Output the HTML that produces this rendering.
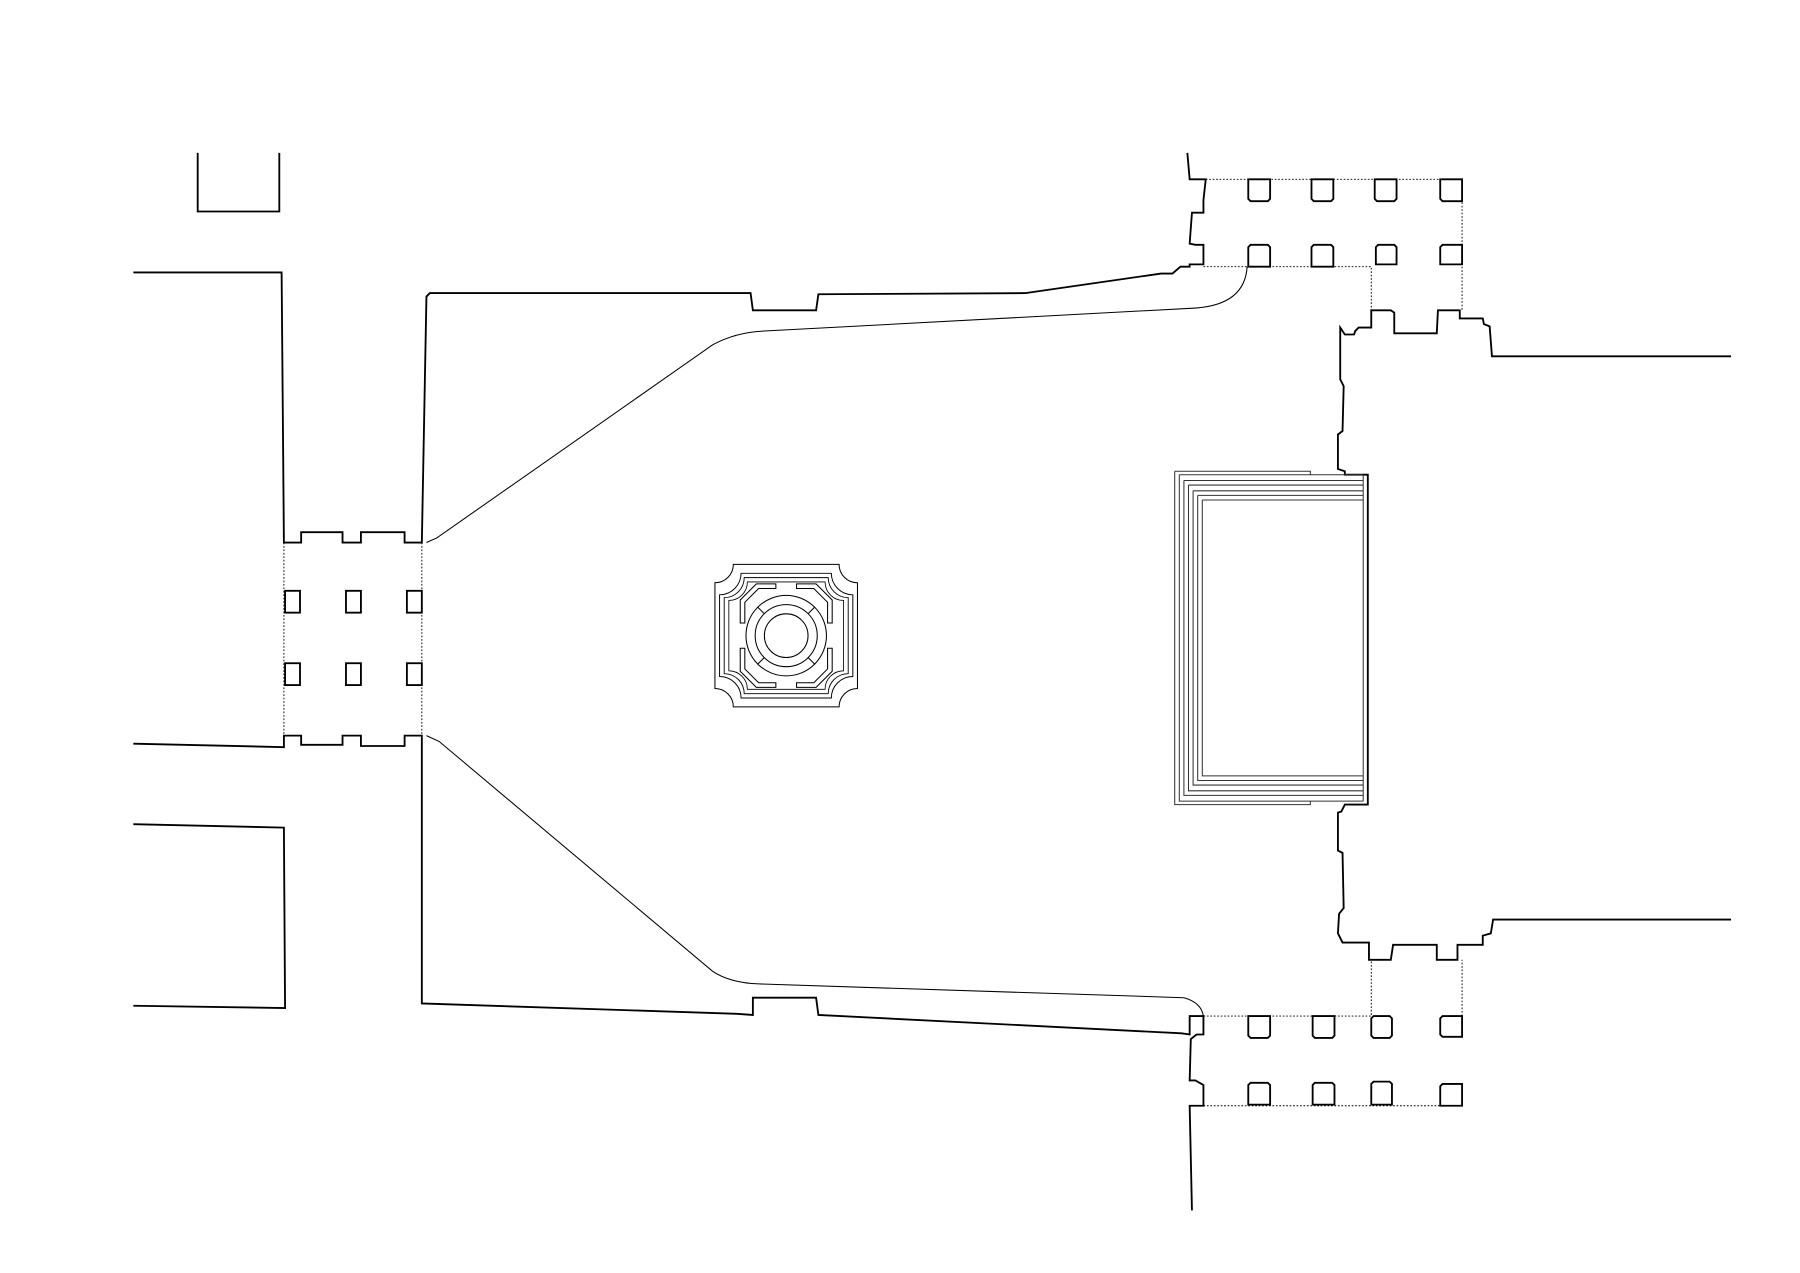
<!DOCTYPE html>
<html><head><meta charset="utf-8"><style>html,body{margin:0;padding:0;background:#fff}svg{display:block}</style></head><body>
<svg width="1800" height="1273" viewBox="0 0 1566 1107.5" preserveAspectRatio="none" xmlns="http://www.w3.org/2000/svg" fill="none" stroke="#000" stroke-linejoin="miter">
<g stroke-width="1.6">
<path d="M172,133 V184 H243 V133"/>
<path d="M116,237 H245 L247,472 H262 V463 H298 V472 H314 V463 H352 V472 H367 L371,258 L374,255 H653 L655,270 H710 L712,256 L892,255 L1010,238 L1020,238 L1027,232 L1035,232 V230 H1047 V213 H1040 L1035,212 L1037,185 H1047 V174 L1049,156 H1035 L1033,133"/>
<path d="M116,647 L247,650 V640 H262 V648 H298 V640 H314 V649 H352 V640 H367 V873 L641,882 L655,883 V868 H710 L712,883 L1028,899 L1035,900 V884 H1047 V900 H1041 L1036,904 L1035,940 H1040 L1047,944 V962 H1035 L1037,1053"/>
<path d="M116,717 L247,720 L248,877 L116,875"/>
<path d="M1506,310 H1298 L1296,284 L1291,282 L1290,277 H1270 V270 H1251 L1250,290 H1213 V272 L1210,270 H1193 V285 L1182,285 L1179,288 L1178,291 H1170 L1166,285 L1166,330 L1169,336 L1168,375 L1164,378 L1164,408 L1170,410 L1170,413 H1190 V700 H1170 L1167,706 L1164,707 L1164,740 L1168,742 L1169,790 L1165,795 L1164,812 L1168,820 H1191 V835 L1210,835 L1212,822 H1250 V835 H1268 V822 H1290 V814 L1297,812 L1299,800 H1506"/>
</g>
<g stroke-width="1.6">
<path d="M1086,156 h19 v17 l-2,2 h-15 l-2,-2z"/><path d="M1141,156 h19 v17 l-2,2 h-15 l-2,-2z"/><path d="M1196,156 h19 v17 l-2,2 h-15 l-2,-2z"/><path d="M1253,156 h19 v19 h-17 l-2,-2z"/>
<path d="M1086,215 l2,-2 h15 l2,2 v17 h-19z"/><path d="M1141,215 l2,-2 h15 l2,2 v17 h-19z"/><path d="M1197,215 l2,-2 h14 l2,2 v15 h-18z"/><path d="M1253,215 l2,-2 h17 v17 h-19z"/>
<path d="M1086,884 h19 v17 l-2,2 h-15 l-2,-2z"/><path d="M1142,884 h19 v17 l-2,2 h-15 l-2,-2z"/><path d="M1193,886 l2,-2 h14 l2,2 v15 l-2,2 h-14 l-2,-2z"/><path d="M1253,886 l2,-2 h17 v18 h-17 l-2,-2z"/>
<path d="M1086,944 l2,-2 h15 l2,2 v17 h-19z"/><path d="M1142,944 l2,-2 h15 l2,2 v17 h-19z"/><path d="M1193,943 l2,-2 h14 l2,2 v18 h-18z"/><path d="M1253,945 l2,-2 h17 v19 h-19z"/>
<rect x="248" y="514" width="13" height="19"/><rect x="301" y="514" width="13" height="19"/><rect x="354" y="514" width="13" height="19"/>
<rect x="248" y="577" width="13" height="19"/><rect x="301" y="577" width="13" height="19"/><rect x="354" y="577" width="13" height="19"/>
</g>
<g stroke-width="0.8" stroke-dasharray="1.5,1.5">
<path d="M1049,156 H1272 V213 M1047,232 H1193 V270 M1272,232 V270"/>
<path d="M1047,884 H1193 V835 M1272,884 V835 M1047,962 H1272 V944"/>
<path d="M247,472 V640 M367,472 V640"/>
</g>
<g stroke-width="0.9">
<path d="M371,472 L380,468 L620,300 Q640,289 665,288 L1040,268 Q1083,265 1085,232"/>
<path d="M371,640 L382,645 L620,845 Q635,855 660,856 L1030,868 Q1045,872 1047,884"/>
</g>
<g stroke-width="0.9" stroke="#333">
<path d="M1022,410 H1140 V413 M1022,410 V700 H1140 V697"/>
<path d="M1026,413 H1186 M1026,413 V697 H1186"/>
<path d="M1030,418 H1186 M1030,418 V692 H1186"/>
<path d="M1034,422 H1186 M1034,422 V688 H1186"/>
<path d="M1038,427 H1186 M1038,427 V683 H1186"/>
<path d="M1042,431 H1186 M1042,431 V679 H1186"/>
<path d="M1046,435 H1186 M1046,435 V675 H1186 M1186,413 V697"/>
</g>
<g stroke-width="0.9">
<path d="M638,491 H730 A16,16 0 0 0 746,507 V599 A16,16 0 0 0 730,615 H638 A16,16 0 0 0 622,599 V507 A16,16 0 0 0 638,491Z"/>
<path d="M642,495 H726 A20,20 0 0 0 746,515 V591 A20,20 0 0 0 726,611 H642 A20,20 0 0 0 622,591 V515 A20,20 0 0 0 642,495Z" transform="translate(684,553) scale(0.935) translate(-684,-553)"/>
<path d="M642,495 H726 A20,20 0 0 0 746,515 V591 A20,20 0 0 0 726,611 H642 A20,20 0 0 0 622,591 V515 A20,20 0 0 0 642,495Z" transform="translate(684,553) scale(0.87) translate(-684,-553)"/>
<path d="M642,495 H726 A20,20 0 0 0 746,515 V591 A20,20 0 0 0 726,611 H642 A20,20 0 0 0 622,591 V515 A20,20 0 0 0 642,495Z" transform="translate(684,553) scale(0.805) translate(-684,-553)"/>
<path d="M675,512 H660 L648,524 V542 H644 V522 L658,508 H675Z M693,512 H708 L720,524 V542 H724 V522 L710,508 H693Z M675,594 H660 L648,582 V564 H644 V584 L658,598 H675Z M693,594 H708 L720,582 V564 H724 V584 L710,598 H693Z"/>
<circle cx="684" cy="553" r="35"/><circle cx="684" cy="553" r="27"/><circle cx="684" cy="553" r="19"/>
<path d="M659,528 L665,534 M709,528 L703,534 M659,578 L665,572 M709,578 L703,572"/>
</g>
</svg>
</body></html>
